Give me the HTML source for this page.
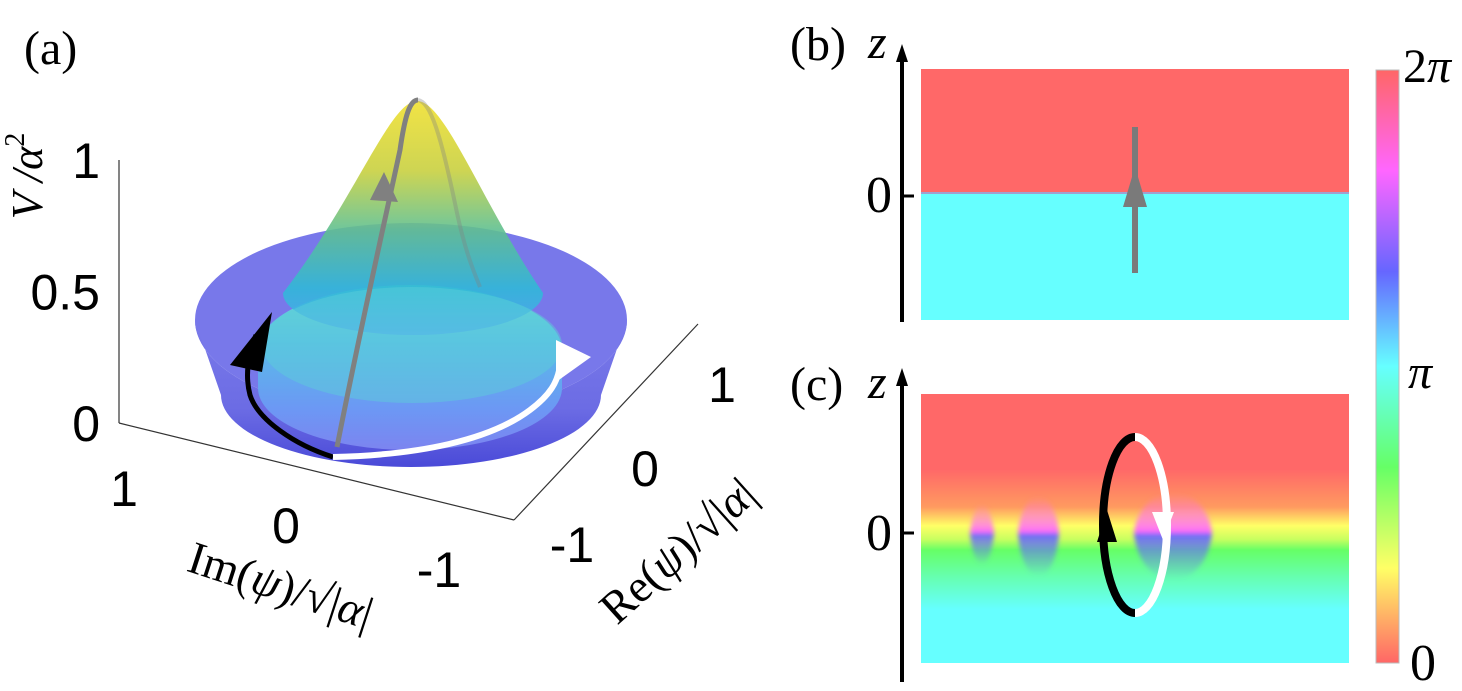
<!DOCTYPE html>
<html><head><meta charset="utf-8"><style>
html,body{margin:0;padding:0;background:#fff;}
svg{display:block;}
.sans{font-family:"Liberation Sans",sans-serif;}
.serif{font-family:"Liberation Serif","DejaVu Serif",serif;}
</style></head><body>
<svg id="fig" width="1462" height="691" viewBox="0 0 1462 691" xmlns="http://www.w3.org/2000/svg">
<defs>
  <linearGradient id="cone" x1="0" y1="0" x2="0" y2="1">
    <stop offset="0" stop-color="#f0e030"/><stop offset="0.3" stop-color="#c8d040"/>
    <stop offset="0.55" stop-color="#60c090"/><stop offset="0.8" stop-color="#30b8d8"/>
    <stop offset="1" stop-color="#50a8f0"/>
  </linearGradient>
  <linearGradient id="disk" x1="0" y1="0" x2="0" y2="1">
    <stop offset="0" stop-color="#68d8d0"/><stop offset="0.35" stop-color="#58bce8"/>
    <stop offset="0.75" stop-color="#6c98f4"/><stop offset="1" stop-color="#7c84f0"/>
  </linearGradient>
  <linearGradient id="wall" x1="0" y1="0" x2="0" y2="1">
    <stop offset="0" stop-color="#7a7aea"/><stop offset="0.6" stop-color="#6c6ce4"/>
    <stop offset="1" stop-color="#4a4ad8"/>
  </linearGradient>
  <linearGradient id="cbar" x1="0" y1="0" x2="0" y2="1">
    <stop offset="0" stop-color="#ff6666"/><stop offset="0.17" stop-color="#ff66ff"/>
    <stop offset="0.34" stop-color="#6666ff"/><stop offset="0.5" stop-color="#66ffff"/>
    <stop offset="0.67" stop-color="#66ff66"/><stop offset="0.84" stop-color="#ffff66"/>
    <stop offset="1" stop-color="#ff6666"/>
  </linearGradient>
  <linearGradient id="cbg" x1="0" y1="0" x2="0" y2="1">
    <stop offset="0" stop-color="#ff6868"/><stop offset="0.28" stop-color="#ff6868"/>
    <stop offset="0.42" stop-color="#ff9a60"/><stop offset="0.49" stop-color="#ffff66"/>
    <stop offset="0.54" stop-color="#c8ff60"/><stop offset="0.58" stop-color="#66ff66"/>
    <stop offset="0.68" stop-color="#66ffb0"/><stop offset="0.8" stop-color="#66ffff"/>
    <stop offset="1" stop-color="#66ffff"/>
  </linearGradient>
  <linearGradient id="mag" x1="0" y1="1" x2="0" y2="0">
    <stop offset="0" stop-color="#ff66ff" stop-opacity="1"/><stop offset="1" stop-color="#ff66ff" stop-opacity="0"/>
  </linearGradient>
  <linearGradient id="blu" x1="0" y1="0" x2="0" y2="1">
    <stop offset="0" stop-color="#6666ff" stop-opacity="1"/><stop offset="1" stop-color="#6666ff" stop-opacity="0"/>
  </linearGradient>
  <filter id="blur"><feGaussianBlur stdDeviation="2.5"/></filter>
  <clipPath id="cclip"><rect x="921" y="394" width="428" height="269"/></clipPath>
</defs>

<!-- Panel (a) -->
<text x="24" y="64" font-size="48" class="serif">(a)</text>
<g stroke="#333" stroke-width="1.2" fill="none">
  <line x1="119" y1="160" x2="119" y2="423"/>
  <line x1="119" y1="423" x2="514" y2="520"/>
  <line x1="514" y1="520" x2="698" y2="324"/>
</g>
<g id="zt" class="sans" font-size="50" text-anchor="end"></g>
<g id="imt" class="sans" font-size="50" text-anchor="middle"></g>
<g id="ret" class="sans" font-size="50" text-anchor="middle"></g>
<text transform="translate(42,176) rotate(-90)" text-anchor="middle" font-size="44" class="serif" font-style="italic">V /α<tspan dy="-18" font-size="28" font-style="normal">2</tspan></text>
<text transform="translate(276,600) rotate(18)" text-anchor="middle" font-size="46" class="serif">Im(<tspan font-style="italic">ψ</tspan>)/√|<tspan font-style="italic">α</tspan>|</text>
<text transform="translate(688,562) rotate(-42)" text-anchor="middle" font-size="46" class="serif">Re(<tspan font-style="italic">ψ</tspan>)/√|<tspan font-style="italic">α</tspan>|</text>

<g>
  <ellipse cx="411" cy="320" rx="216" ry="97" fill="#7878ea"/>
  <path d="M195,320 L221,395 A190,72 0 0 0 601,395 L627,320 A216,97 0 0 1 195,320 Z" fill="url(#wall)"/>
  <path d="M258,350 A152,65 0 0 1 562,350 L562,388 A152,62 0 0 1 258,388 Z" fill="url(#disk)"/>
  <path d="M417,101 C445,101 480,200 543,293 A130,42 0 0 1 283,293 C355,200 390,101 417,101 Z" fill="url(#cone)" opacity="0.9"/>
  <ellipse cx="412" cy="345" rx="150" ry="58" fill="#5ed0d8" opacity="0.45"/>
</g>
<g fill="none">
  <path d="M418,100 C430,102 440,130 457,213 C465,250 473,270 480,287" stroke="#808080" stroke-width="4" opacity="0.35"/>
  <path d="M337,447 C360,330 385,220 400,150 C405,115 410,100 418,100" stroke="#808080" stroke-width="5"/>
  <polygon points="384,172 370,200 398,202" fill="#808080"/>
  <path d="M333,457 C295,445 258,420 250,395 C244,372 250,350 256,335" stroke="#000" stroke-width="5"/>
  <polygon points="272,312 230,365 262,372" fill="#000"/>
  <path d="M333,457 C420,455 490,440 530,410 C550,395 558,382 560,365" stroke="#fff" stroke-width="6"/>
  <polygon points="591,357 556,340 556,382" fill="#fff"/>
</g>

<!-- Panel (b) -->
<text x="790" y="60" font-size="48" class="serif">(b)</text>
<text x="868" y="58" font-size="48" class="serif" font-style="italic">z</text>
<line x1="902" y1="322" x2="902" y2="60" stroke="#000" stroke-width="4"/>
<polygon points="902,44 896,62 908,62" fill="#000"/>
<line x1="902" y1="196" x2="914" y2="196" stroke="#000" stroke-width="3"/>
<text x="892" y="212" font-size="52" class="serif" text-anchor="end">0</text>
<g>
  <rect x="921" y="69" width="428" height="125" fill="#ff6868"/>
  <rect x="921" y="193" width="428" height="127" fill="#66ffff"/>
  <rect x="921" y="192" width="428" height="2" fill="#a0a0d0"/>
</g>
<line x1="1135" y1="273" x2="1135" y2="127" stroke="#7a7a7a" stroke-width="6"/>
<polygon points="1135,167 1123,207 1147,207" fill="#7a7a7a"/>

<!-- Panel (c) -->
<text x="790" y="400" font-size="48" class="serif">(c)</text>
<text x="868" y="398" font-size="48" class="serif" font-style="italic">z</text>
<line x1="902" y1="682" x2="902" y2="384" stroke="#000" stroke-width="4"/>
<polygon points="902,368 896,386 908,386" fill="#000"/>
<line x1="902" y1="533" x2="914" y2="533" stroke="#000" stroke-width="3"/>
<text x="892" y="550" font-size="52" class="serif" text-anchor="end">0</text>
<g clip-path="url(#cclip)">
  <rect x="921" y="394" width="428" height="269" fill="url(#cbg)"/>
  <g filter="url(#blur)">
    <path d="M970,533 C974,495 990,495 994,533 Z" fill="url(#mag)"/>
    <path d="M970,533 C974,575 990,575 994,533 Z" fill="url(#blu)"/>
    <path d="M1018,533 C1022,485 1055,485 1059,533 Z" fill="url(#mag)"/>
    <path d="M1018,533 C1022,590 1055,590 1059,533 Z" fill="url(#blu)"/>
    <path d="M1134,533 C1140,480 1206,480 1212,533 Z" fill="url(#mag)"/>
    <path d="M1134,533 C1140,595 1206,595 1212,533 Z" fill="url(#blu)"/>
  </g>
</g>
<g fill="none" stroke-width="8">
  <path d="M1135,437 A32,88 0 0 0 1135,613" stroke="#000"/>
  <path d="M1135,437 A32,88 0 0 1 1135,613" stroke="#fff"/>
  <polygon points="1107,510 1097,542 1117,542" fill="#000" stroke="none"/>
  <polygon points="1163,540 1152,512 1174,512" fill="#fff" stroke="none"/>
</g>

<!-- colorbar -->
<rect x="1376" y="70" width="23" height="593" fill="url(#cbar)" stroke="#bbb" stroke-width="1"/>
<text x="1403" y="82" font-size="48" class="serif">2<tspan font-style="italic">π</tspan></text>
<text x="1408" y="388" font-size="48" class="serif" font-style="italic">π</text>
<text x="1410" y="680" font-size="52" class="serif">0</text>
</svg>
<script>
const zTickLabels = ["0", "0.5", "1"];
const zTickValues = [0, 0.5, 1];
const imTickLabels = ["1", "0", "-1"];
const reTickLabels = ["-1", "0", "1"];
const NS = "http://www.w3.org/2000/svg";
function zY(v){ return 423 - v * 263; }
const zt = document.getElementById('zt');
zTickValues.forEach((v,i)=>{
  const t = document.createElementNS(NS,'text');
  t.setAttribute('x', 100); t.setAttribute('y', zY(v) + 18);
  
  
  t.textContent = zTickLabels[i]; zt.appendChild(t);
});
const imPos = [[124,506],[286,543],[439,587]];
const imt = document.getElementById('imt');
imTickLabels.forEach((s,i)=>{
  const t = document.createElementNS(NS,'text');
  t.setAttribute('x', imPos[i][0]); t.setAttribute('y', imPos[i][1]);
  
  
  t.textContent = s; imt.appendChild(t);
});
const rePos = [[572,562],[645,486],[722,402]];
const ret = document.getElementById('ret');
reTickLabels.forEach((s,i)=>{
  const t = document.createElementNS(NS,'text');
  t.setAttribute('x', rePos[i][0]); t.setAttribute('y', rePos[i][1]);
  
  
  t.textContent = s; ret.appendChild(t);
});
</script>
</body></html>
